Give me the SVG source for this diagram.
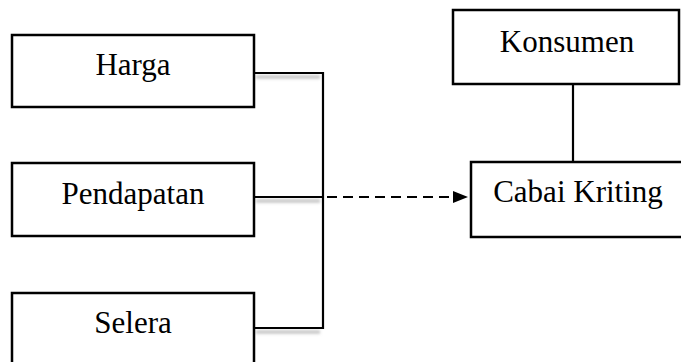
<svg xmlns="http://www.w3.org/2000/svg" width="681" height="362" viewBox="0 0 681 362">
<style>
.box{fill:#fff;stroke:#000;stroke-width:2.5}
.lbl{font-family:"Liberation Serif","Times New Roman",serif;font-size:31px;fill:#000;text-anchor:middle}
.ln{fill:none;stroke:#000;stroke-width:2.2}
.sh{fill:none;stroke:#bbb;stroke-width:3;filter:url(#blur)}
</style>
<defs>
<filter id="blur" x="-10%" y="-200%" width="120%" height="500%"><feGaussianBlur stdDeviation="1.5"/></filter>
<marker id="arr" viewBox="0 0 15 12" refX="15" refY="6" markerWidth="15" markerHeight="12" markerUnits="userSpaceOnUse" orient="auto"><path d="M0,0 L15,6 L0,12 Z" fill="#000"/></marker>
</defs>
<g id="connectors">
<path class="sh" d="M256,77 H320 M256,201 H320 M256,332 H320"/>
<path class="ln" d="M254,73 H323 V328 H254"/>
<path class="ln" d="M254,197 H323"/>
<path class="ln" d="M327,197 H468" stroke-width="2.8" stroke-dasharray="10,6" marker-end="url(#arr)"/>
<path class="ln" d="M573,84 V162"/>
</g>
<g id="harga"><rect class="box" x="12" y="35" width="242" height="72"/><text class="lbl" x="133" y="75">Harga</text></g>
<g id="pendapatan"><rect class="box" x="12" y="163" width="242" height="73"/><text class="lbl" x="133" y="204">Pendapatan</text></g>
<g id="selera"><rect class="box" x="12" y="293" width="242" height="80"/><text class="lbl" x="133" y="333">Selera</text></g>
<g id="konsumen"><rect class="box" x="453" y="10" width="226" height="74"/><text class="lbl" x="567" y="52">Konsumen</text></g>
<g id="cabai"><rect class="box" x="471" y="162" width="220" height="75"/><text class="lbl" x="578" y="202">Cabai Kriting</text></g>
</svg>
